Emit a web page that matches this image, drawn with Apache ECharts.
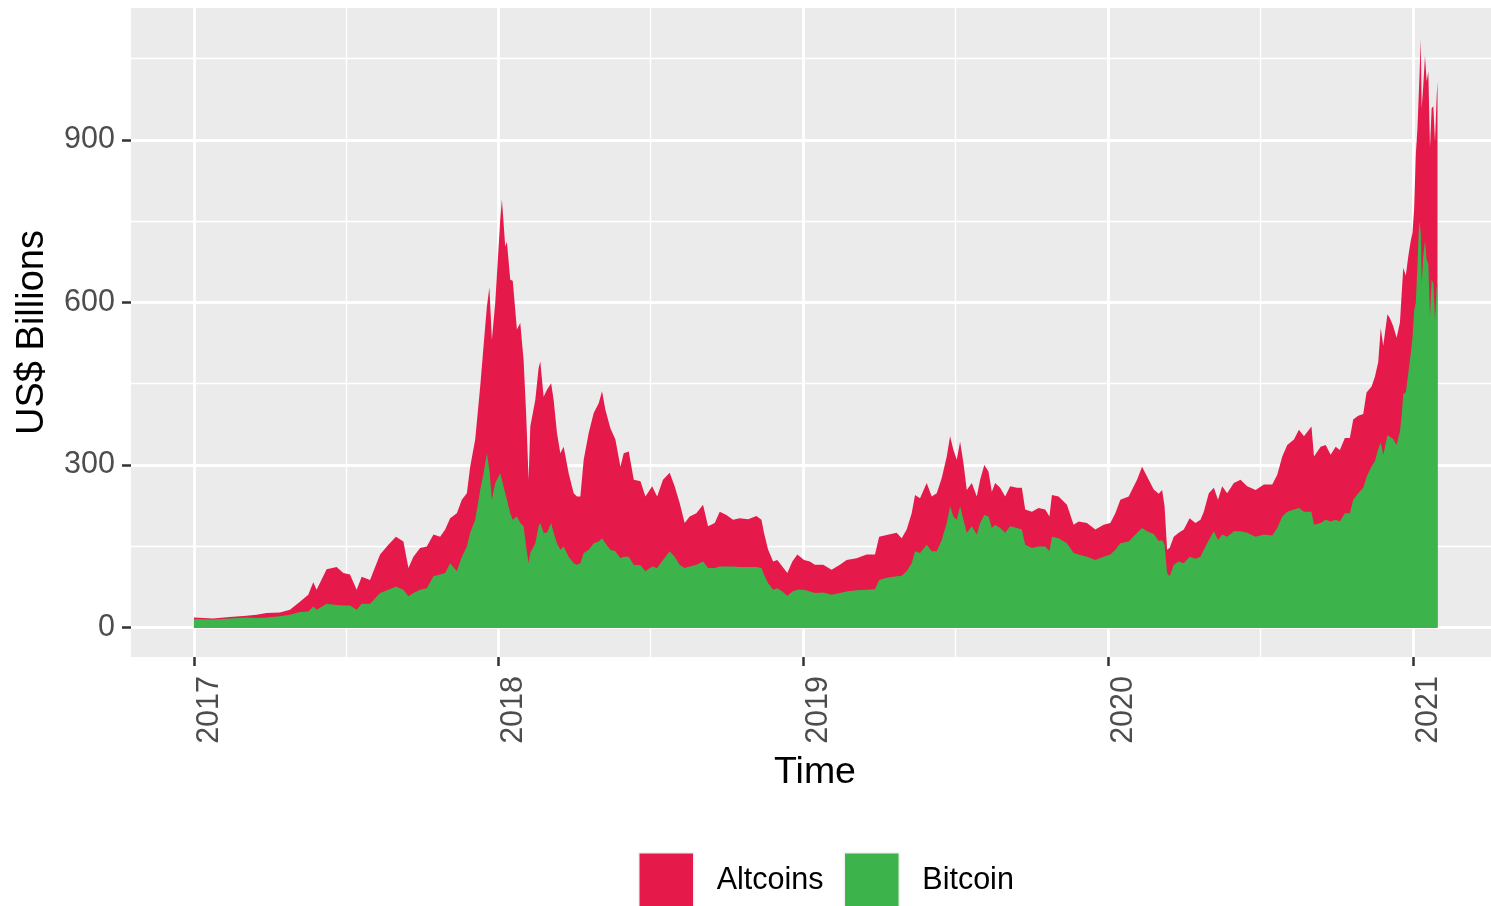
<!DOCTYPE html>
<html>
<head>
<meta charset="utf-8">
<script src="https://cdn.jsdelivr.net/npm/echarts@6/dist/echarts.min.js"></script>
<style>
html,body{margin:0;padding:0;background:#ffffff;}
#chart{width:1491px;height:906px;}
</style>
</head>
<body>
<div id="chart"></div>
<script>
// ---- Data (US$ billions) ----
const dates = [
  '2017-01-01','2017-01-24','2017-02-13','2017-03-05','2017-03-17','2017-03-29','2017-04-14','2017-04-26','2017-05-08','2017-05-18',
  '2017-05-24','2017-05-28','2017-06-09','2017-06-21','2017-06-29','2017-07-07','2017-07-15','2017-07-21','2017-07-31','2017-08-12',
  '2017-08-22','2017-08-31','2017-09-09','2017-09-15','2017-09-21','2017-09-29','2017-10-07','2017-10-15','2017-10-23','2017-10-29',
  '2017-11-04','2017-11-12','2017-11-18','2017-11-24','2017-11-28','2017-12-04','2017-12-10','2017-12-14','2017-12-18','2017-12-21',
  '2017-12-24','2017-12-28',
  '2018-01-03','2018-01-05','2018-01-09','2018-01-11','2018-01-15','2018-01-18','2018-01-23','2018-01-27','2018-01-31','2018-02-03',
  '2018-02-06','2018-02-08','2018-02-14','2018-02-18','2018-02-20','2018-02-24','2018-02-28','2018-03-05','2018-03-08','2018-03-12',
  '2018-03-16','2018-03-20','2018-03-26','2018-04-01','2018-04-05','2018-04-09','2018-04-13','2018-04-19','2018-04-25','2018-05-01',
  '2018-05-05','2018-05-09','2018-05-15','2018-05-21','2018-05-27','2018-05-31','2018-06-06','2018-06-12','2018-06-20','2018-06-26',
  '2018-07-04','2018-07-10','2018-07-17','2018-07-25','2018-07-31','2018-08-06','2018-08-12','2018-08-18','2018-08-26','2018-09-03',
  '2018-09-09','2018-09-17','2018-09-23','2018-10-01','2018-10-09','2018-10-17','2018-10-27','2018-11-06','2018-11-12','2018-11-15',
  '2018-11-20','2018-11-26','2018-12-01','2018-12-07','2018-12-13','2018-12-19','2018-12-25',
  '2019-01-02','2019-01-09','2019-01-15','2019-01-25','2019-02-04','2019-02-14','2019-02-22','2019-03-06','2019-03-18','2019-03-28',
  '2019-04-02','2019-04-11','2019-04-23','2019-04-29','2019-05-05','2019-05-11','2019-05-15','2019-05-21','2019-05-29','2019-06-04',
  '2019-06-10','2019-06-16','2019-06-22','2019-06-26','2019-06-30','2019-07-04','2019-07-08','2019-07-12','2019-07-16','2019-07-22',
  '2019-07-28','2019-08-01','2019-08-06','2019-08-11','2019-08-15','2019-08-19','2019-08-25','2019-08-31','2019-09-06','2019-09-14',
  '2019-09-20','2019-09-24','2019-10-02','2019-10-10','2019-10-18','2019-10-23','2019-10-26','2019-11-03','2019-11-13','2019-11-21',
  '2019-11-27','2019-12-07','2019-12-17','2019-12-27',
  '2020-01-04','2020-01-10','2020-01-16','2020-01-26','2020-02-05','2020-02-11','2020-02-17','2020-02-25','2020-03-02','2020-03-06',
  '2020-03-09','2020-03-12','2020-03-15','2020-03-20','2020-03-26','2020-04-01','2020-04-08','2020-04-15','2020-04-21','2020-04-25',
  '2020-05-01','2020-05-07','2020-05-12','2020-05-17','2020-05-23','2020-05-31','2020-06-08','2020-06-16','2020-06-26','2020-07-06',
  '2020-07-16','2020-07-22','2020-07-28','2020-08-03','2020-08-11','2020-08-17','2020-08-23','2020-09-01','2020-09-04','2020-09-12',
  '2020-09-18','2020-09-24','2020-09-30','2020-10-05','2020-10-11','2020-10-17','2020-10-21','2020-10-27','2020-11-02','2020-11-06',
  '2020-11-12','2020-11-16','2020-11-20','2020-11-23','2020-11-26','2020-12-01','2020-12-04','2020-12-08','2020-12-12','2020-12-16',
  '2020-12-18','2020-12-20','2020-12-23','2020-12-26','2020-12-29','2020-12-31',
  '2021-01-02','2021-01-04','2021-01-06','2021-01-08','2021-01-10','2021-01-11','2021-01-13','2021-01-15','2021-01-17','2021-01-19',
  '2021-01-21','2021-01-23','2021-01-25','2021-01-27','2021-01-29','2021-01-30'
];

const bitcoin = [
  16,15,17,19,18,19,21,24,29,30, 39,33,44,42,41,41,33,44,44,64, 70,76,70,58,64,70,73,95,98,101,
  119,104,131,150,175,199,254,285,322,291, 236,267,
  285,273,248,236,211,199,205,193,187,150, 119,138,156,187,193,175,175,193,175,156,
  144,150,131,119,116,119,138,144,156,159, 165,156,144,141,128,131,131,116,115,104,
  113,110,125,141,131,116,110,113,116,122, 110,110,113,113,113,112,112,112,110,98,
  82,70,73,67,59,67,70,
  70,67,64,65,61,64,67,69,70,71, 88,92,95,96,104,119,141,138,153,141,
  141,162,193,224,205,199,224,199,175,187, 172,193,208,205,184,190,184,175,187,184,
  181,153,147,150,150,141,168,165,156,138, 135,131,125,131,
  135,144,156,159,175,184,178,173,160,162, 153,101,95,116,122,119,131,127,131,144,
  162,178,162,172,168,178,178,175,168,172, 170,184,205,214,218,221,214,214,190,193,
  199,196,199,196,211,211,236,248,258,278, 298,307,330,341,319,355,352,348,337,362,
  391,431,434,470,506,535,
  585,599,671,750,728,635,685,714,678,671, 574,642,635,567,628,635
];

const altcoins = [
  3,2,3,3,6,8,7,9,19,31, 45,37,64,70,60,57,37,50,44,71, 83,92,89,52,67,77,77,77,70,80,
  83,107,105,98,122,148,191,234,270,337, 295,332,
  467,517,455,476,431,441,345,369,307,246, 154,233,264,292,298,251,264,258,245,203,
  178,184,154,129,126,123,172,215,240,255, 271,246,224,206,169,191,194,157,155,138,
  148,132,148,145,130,114,83,92,95,105, 77,83,101,95,86,90,88,94,89,77,
  62,52,52,46,42,55,65,
  55,55,52,51,46,52,58,59,65,64, 80,79,80,69,77,92,104,101,114,101,
  107,114,123,129,123,111,119,105,79,80, 70,80,92,83,67,77,74,67,74,74,
  77,65,67,71,68,64,77,77,71,52, 61,62,56,59,
  58,67,80,83,98,113,101,82,87,92, 71,43,52,52,53,62,71,66,68,70,
  86,80,74,89,80,89,95,86,86,92, 94,98,111,123,129,144,139,157,126,141,
  138,123,135,132,139,139,148,143,136,156, 147,156,160,212,201,223,219,208,198,201,
  223,233,215,215,208,193,
  187,273,251,251,357,323,316,341,330,355, 312,316,327,330,352,373
];

const yTicks = [0, 300, 600, 900];
const yMinorGrid = [150, 450, 750, 1050];
const xTickYears = [2017, 2018, 2019, 2020, 2021];
const legendNames = ['Altcoins', 'Bitcoin'];
const seriesColors = { Altcoins: '#E6194B', Bitcoin: '#3CB44B' };

// ---- Chart ----
const DAY = 86400000;
const FONT = '"Liberation Sans", Arial, Helvetica, sans-serif';
const toTime = s => { const p = s.split('-').map(Number); return new Date(p[0], p[1] - 1, p[2]).getTime(); };
const yearStart = y => new Date(y, 0, 1).getTime();
const xTicks = xTickYears.map(yearStart);
const xMinorGrid = xTickYears.slice(0, -1).map(y => new Date(y, 6, 2).getTime());
const xMin = yearStart(2017) - 75.4 * DAY;
const xMax = yearStart(2021) + 93.1 * DAY;

const gridLines = [].concat(
  yTicks.map(v => ({ yAxis: v, lineStyle: { width: 2.8 } })),
  yMinorGrid.map(v => ({ yAxis: v, lineStyle: { width: 1.4 } })),
  xTicks.map(v => ({ xAxis: v, lineStyle: { width: 2.8 } })),
  xMinorGrid.map(v => ({ xAxis: v, lineStyle: { width: 1.4 } }))
);

// Stacked areas: Altcoins sits on top of Bitcoin, so its upper edge is the stacked sum.
const bitcoinTop = dates.map((d, i) => [toTime(d), bitcoin[i]]);
const altcoinsTop = dates.map((d, i) => [toTime(d), bitcoin[i] + altcoins[i]]);

function makeSeries(name, data, z) {
  return {
    name: name,
    type: 'line',
    data: data,
    symbol: 'none',
    showSymbol: false,
    smooth: false,
    lineStyle: { width: 0 },
    areaStyle: { color: seriesColors[name], opacity: 1 },
    itemStyle: { color: seriesColors[name] },
    color: seriesColors[name],
    emphasis: { disabled: true },
    silent: true,
    z: z
  };
}

const altSeries = makeSeries('Altcoins', altcoinsTop, 2);
altSeries.markLine = {
  z: 1,
  silent: true,
  animation: false,
  symbol: ['none', 'none'],
  label: { show: false },
  lineStyle: { color: '#FFFFFF', type: 'solid', width: 2.8 },
  emphasis: { disabled: true },
  data: gridLines
};
const btcSeries = makeSeries('Bitcoin', bitcoinTop, 3);

const option = {
  animation: false,
  textStyle: { fontFamily: FONT },
  grid: {
    left: 131, right: 0, top: 8, bottom: 249,
    show: true, backgroundColor: '#EBEBEB', borderWidth: 0,
    containLabel: false, outerBoundsMode: 'none'
  },
  legend: {
    data: legendNames,
    left: 638, top: 852, padding: 0,
    itemWidth: 55, itemHeight: 55, itemGap: 20,
    icon: 'rect',
    selectedMode: false,
    itemStyle: { borderColor: '#F2F2F2', borderWidth: 1.5 },
    textStyle: { fontSize: 30.5, color: '#000000', fontFamily: FONT, padding: [9, 0, 0, 18] }
  },
  xAxis: {
    type: 'value',
    min: xMin, max: xMax,
    name: 'Time', nameLocation: 'middle', nameGap: 97,
    nameTextStyle: { fontSize: 37.5, color: '#000000', fontFamily: FONT, padding: [0, 0, 0, 8] },
    axisLine: { show: false, onZero: false },
    axisTick: { show: true, customValues: xTicks, length: 9, lineStyle: { color: '#333333', width: 2.5 } },
    axisLabel: {
      customValues: xTicks, rotate: 90, verticalAlign: 'top', margin: 19,
      fontSize: 30.5, color: '#4D4D4D', fontFamily: FONT,
      formatter: v => String(new Date(v).getFullYear())
    },
    splitLine: { show: false },
    minorSplitLine: { show: false }
  },
  yAxis: {
    type: 'value',
    min: -54, max: 1143,
    name: 'US$ Billions', nameLocation: 'middle', nameGap: 79,
    nameTextStyle: { fontSize: 38, color: '#000000', fontFamily: FONT },
    axisLine: { show: false, onZero: false },
    axisTick: { show: true, customValues: yTicks, length: 9, lineStyle: { color: '#333333', width: 2.5 } },
    axisLabel: { customValues: yTicks, margin: 16, fontSize: 30.5, color: '#4D4D4D', fontFamily: FONT },
    splitLine: { show: false },
    minorSplitLine: { show: false }
  },
  series: [altSeries, btcSeries]
};

const chart = echarts.init(document.getElementById('chart'), null, { renderer: 'canvas' });
chart.setOption(option);
</script>
</body>
</html>
